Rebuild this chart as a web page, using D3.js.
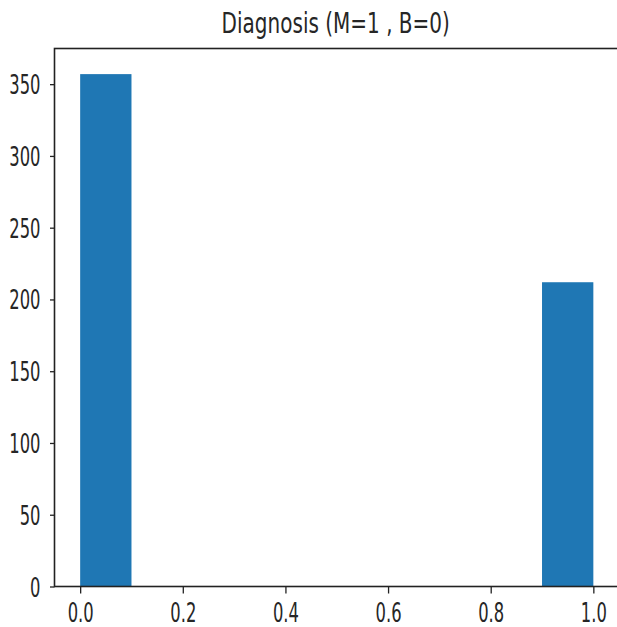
<!DOCTYPE html>
<html>
<head>
<meta charset="utf-8">
<script src="https://cdn.jsdelivr.net/npm/d3@7"></script>
<style>
  html, body { margin: 0; padding: 0; background: #fff; }
  svg { display: block; }
  text { font-family: "DejaVu Sans", sans-serif; fill: #262626; }
</style>
</head>
<body>
<svg id="chart" width="617" height="627"></svg>
<script>
// Data: histogram of diagnosis (M=1, B=0), 10 bins on [0,1]
const binEdges = [0.0, 0.1, 0.2, 0.3, 0.4, 0.5, 0.6, 0.7, 0.8, 0.9, 1.0];
const binCounts = [357, 0, 0, 0, 0, 0, 0, 0, 0, 212];
const xTicks = [0.0, 0.2, 0.4, 0.6, 0.8, 1.0];
const yTicks = [0, 50, 100, 150, 200, 250, 300, 350];
const title = "Diagnosis (M=1 , B=0)";

const sx = 0.63; // horizontal squeeze of text seen in reference

const svg = d3.select("#chart");
const pLeft = 54.5, pRight = 619, pTop = 48.5, pBottom = 586.5;

const yMax = d3.max(binCounts) * 1.05;
const x = d3.scaleLinear().domain([-0.05, 1.05]).range([pLeft, pRight]);
const y = d3.scaleLinear().domain([0, yMax]).range([pBottom, pTop]);

const bins = binCounts.map((c, i) => ({ x0: binEdges[i], x1: binEdges[i + 1], count: c }));

svg.append("g").selectAll("rect")
  .data(bins.filter(d => d.count > 0))
  .join("rect")
  .attr("x", d => x(d.x0))
  .attr("width", d => x(d.x1) - x(d.x0))
  .attr("y", d => y(d.count))
  .attr("height", d => y(0) - y(d.count))
  .attr("fill", "#1f77b4");

// spines
const spine = svg.append("g").attr("stroke", "#222").attr("stroke-width", 1.6).attr("fill", "none");
spine.append("rect").attr("x", pLeft).attr("y", pTop).attr("width", pRight - pLeft).attr("height", pBottom - pTop);

// x axis
const xAxis = svg.append("g")
  .attr("transform", `translate(0,${pBottom})`)
  .call(d3.axisBottom(x).tickValues(xTicks).tickFormat(d3.format(".1f")).tickSize(7).tickPadding(0));
xAxis.select(".domain").remove();
xAxis.selectAll(".tick line").attr("stroke", "#222").attr("stroke-width", 1.3);
xAxis.selectAll(".tick text")
  .attr("font-size", 26)
  .attr("font-family", "DejaVu Sans")
  .attr("fill", "#262626")
  .attr("dy", null)
  .attr("y", 36)
  .attr("text-anchor", "middle")
  .attr("transform", `scale(${sx},1)`);

// y axis
const yAxis = svg.append("g")
  .attr("transform", `translate(${pLeft},0)`)
  .call(d3.axisLeft(y).tickValues(yTicks).tickFormat(d3.format("d")).tickSize(4.5).tickPadding(0));
yAxis.select(".domain").remove();
yAxis.selectAll(".tick line").attr("stroke", "#222").attr("stroke-width", 1.3);
yAxis.selectAll(".tick text")
  .attr("font-size", 26)
  .attr("font-family", "DejaVu Sans")
  .attr("fill", "#262626")
  .attr("dy", null)
  .attr("y", 9.5)
  .attr("x", -14 / sx)
  .attr("text-anchor", "end")
  .attr("transform", `scale(${sx},1)`);

// title
svg.append("text")
  .attr("transform", `translate(${(pLeft + pRight) / 2 - 1},33.3) scale(0.69,1)`)
  .attr("text-anchor", "middle")
  .attr("font-size", 29)
  .text(title);
</script>
</body>
</html>
